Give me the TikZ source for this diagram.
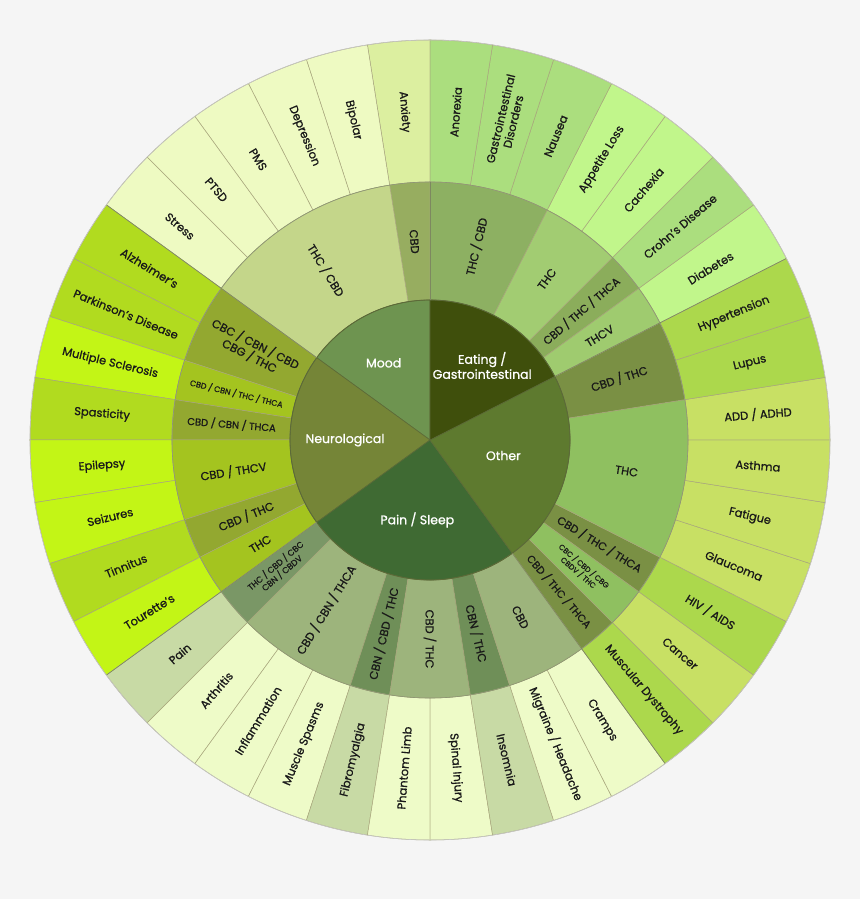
\documentclass[tikz,border=0pt]{standalone}
\usepackage{fontspec}
\setmainfont{Poppins}[FakeBold=0.9]
\definecolor{bgcol}{HTML}{F5F5F5}
% inner circle
\definecolor{cMood}{HTML}{6E9450}
\definecolor{cEat}{HTML}{3F4F0C}
\definecolor{cOther}{HTML}{5E7A2F}
\definecolor{cPain}{HTML}{3F6A33}
\definecolor{cNeuro}{HTML}{758537}
% middle ring
\definecolor{mmA}{HTML}{97AD60}
\definecolor{mmB}{HTML}{C4D68A}
\definecolor{nmA}{HTML}{93A830}
\definecolor{nmB}{HTML}{A4C41F}
\definecolor{pmA}{HTML}{6F8F58}
\definecolor{pmB}{HTML}{9DB47C}
\definecolor{pmC}{HTML}{7A9766}
\definecolor{omA}{HTML}{7A9044}
\definecolor{omB}{HTML}{8FC060}
\definecolor{emA}{HTML}{9FCB6F}
\definecolor{emB}{HTML}{8BAD5B}
\definecolor{emC}{HTML}{A2CC72}
\definecolor{emD}{HTML}{8DB062}
% outer ring
\definecolor{moodA}{HTML}{DCEFA0}
\definecolor{moodB}{HTML}{EEFAC2}
\definecolor{neuA}{HTML}{B1DB1F}
\definecolor{neuB}{HTML}{C3F516}
\definecolor{painA}{HTML}{C8DAA5}
\definecolor{painB}{HTML}{EEFBC8}
\definecolor{othA}{HTML}{ACD84C}
\definecolor{othB}{HTML}{C8E064}
\definecolor{eatA}{HTML}{ABDE7E}
\definecolor{eatB}{HTML}{C1F68B}
\definecolor{seam}{HTML}{A8A67C}
\definecolor{rim}{HTML}{5C6A38}

% annular piece: r in, r out, start, end, fill
\newcommand{\ringpiece}[5]{%
  \filldraw[fill=#5,draw=seam,line width=0.5pt]
    (#3:#1) arc[start angle=#3,end angle=#4,radius=#1]
    -- (#4:#2) arc[start angle=#4,end angle=#3,radius=#2] -- cycle;}

\begin{document}
\begin{tikzpicture}[x=1pt,y=1pt,line join=round]
  \tikzset{
    lbl/.style={text=black!90,align=center,inner sep=0pt},
    core/.style={text=white,align=center,inner sep=0pt,font=\fontsize{12.5}{15}\selectfont}
  }
  \fill[bgcol] (-430,-459) rectangle (430,440);
  \useasboundingbox (-430,-459) rectangle (430,440);
  % outer ring: 40 pieces of 9 degrees, counter-clockwise from the top
  \foreach \col/\lbl [count=\i from 0] in {
      moodA/Anxiety, moodB/Bipolar, moodB/Depression, moodB/PMS, moodB/PTSD, moodB/Stress,
      neuA/Alzheimer’s, neuA/Parkinson’s Disease, neuB/Multiple Sclerosis, neuA/Spasticity,
      neuB/Epilepsy, neuB/Seizures, neuA/Tinnitus, neuB/Tourette’s,
      painA/Pain, painB/Arthritis, painB/Inflammation, painB/Muscle Spasms, painA/Fibromyalgia,
      painB/Phantom Limb, painB/Spinal Injury, painA/Insomnia, painB/{Migraine / Headache}, painB/Cramps,
      othA/Muscular Dystrophy, othB/Cancer, othA/{HIV / AIDS}, othB/Glaucoma, othB/Fatigue,
      othB/Asthma, othB/{ADD / ADHD}, othA/Lupus, othA/Hypertension,
      eatB/Diabetes, eatA/Crohn’s Disease, eatB/Cachexia, eatB/Appetite Loss, eatA/Nausea,
      eatA/{Gastrointestinal\\Disorders}, eatA/Anorexia} {
    \pgfmathsetmacro\sa{90+9*\i}
    \pgfmathsetmacro\ea{99+9*\i}
    \ringpiece{258}{400}{\sa}{\ea}{\col}
    \pgfmathsetmacro\ma{mod(94.5+9*\i,360)}
    \pgfmathsetmacro\ro{(\ma>90 && \ma<270) ? \ma-180 : \ma}
    \node[lbl,font=\fontsize{11.5}{13}\selectfont,rotate=\ro] (o\i) at (\ma:329) {\lbl};
  }
  % middle ring: the substances for each group of complaints
  \foreach \sa/\ea/\col/\fs/\lbl [count=\j] in {
      90/99/mmA/11.5/CBD, 99/144/mmB/11.5/{THC / CBD},
      144/162/nmA/11.5/{CBC / CBN / CBD\\CBG / THC}, 162/171/nmB/8/{CBD / CBN / THC / THCA},
      171/180/nmA/10/{CBD / CBN / THCA}, 180/198/nmB/11.5/{CBD / THCV},
      198/207/nmA/11.5/{CBD / THC}, 207/216/nmB/11.5/THC,
      216/225/pmC/8.5/{THC / CBD / CBC\\CBN / CBDV}, 225/252/pmB/11.5/{CBD / CBN / THCA},
      252/261/pmA/11.5/{CBN / CBD / THC}, 261/279/pmB/11.5/{CBD / THC},
      279/288/pmA/11.5/{CBN / THC}, 288/306/pmB/11.5/CBD,
      306/315/omA/10.5/{CBD / THC / THCA}, 315/324/omB/7.5/{CBC / CBD / CBG\\CBDV / THC},
      324/333/omA/11/{CBD / THC / THCA}, 333/369/omB/11.5/THC, 369/387/omA/11.5/{CBD / THC},
      387/396/emA/11.5/THCV, 396/405/emB/11/{CBD / THC / THCA},
      405/423/emC/11.5/THC, 423/450/emD/11.5/{THC / CBD}} {
    \ringpiece{140}{258}{\sa}{\ea}{\col}
    \pgfmathsetmacro\ma{mod((\sa+\ea)/2,360)}
    \pgfmathsetmacro\ro{(\ma>90 && \ma<270) ? \ma-180 : \ma}
    \pgfmathsetmacro\bs{1.15*\fs}
    \node[lbl,font=\fontsize{\fs}{\bs}\selectfont,rotate=\ro] (m\j) at (\ma:199) {\lbl};
  }
  % inner circle
  \foreach \sa/\ea/\col in {90/144/cMood, 144/216/cNeuro, 216/306/cPain, 306/387/cOther, 387/450/cEat}
    \filldraw[fill=\col,draw=rim,line width=0.6pt] (0,0) -- (\sa:140)
      arc[start angle=\sa,end angle=\ea,radius=140] -- cycle;
  \draw[rim,line width=0.8pt] (0,0) circle[radius=140];
  \draw[rim!70,line width=0.6pt] (0,0) circle[radius=258];
  \foreach \a in {144,216,306,27}
    \draw[rim!80,line width=0.6pt] (\a:140) -- (\a:400);
  \draw[rim!80,line width=0.6pt] (90:140) -- (90:258);
  \draw[black!22,line width=0.6pt] (0,0) circle[radius=400];
  \node[core] (mood) at (121:90) {Mood};
  \node[core] (eating) at (55:91) {Eating /\\Gastrointestinal};
  \node[core] (other) at (-12:75) {Other};
  \node[core] (pain) at (261:81) {Pain / Sleep};
  \node[core] (neuro) at (180:85) {Neurological};
\end{tikzpicture}
\end{document}
